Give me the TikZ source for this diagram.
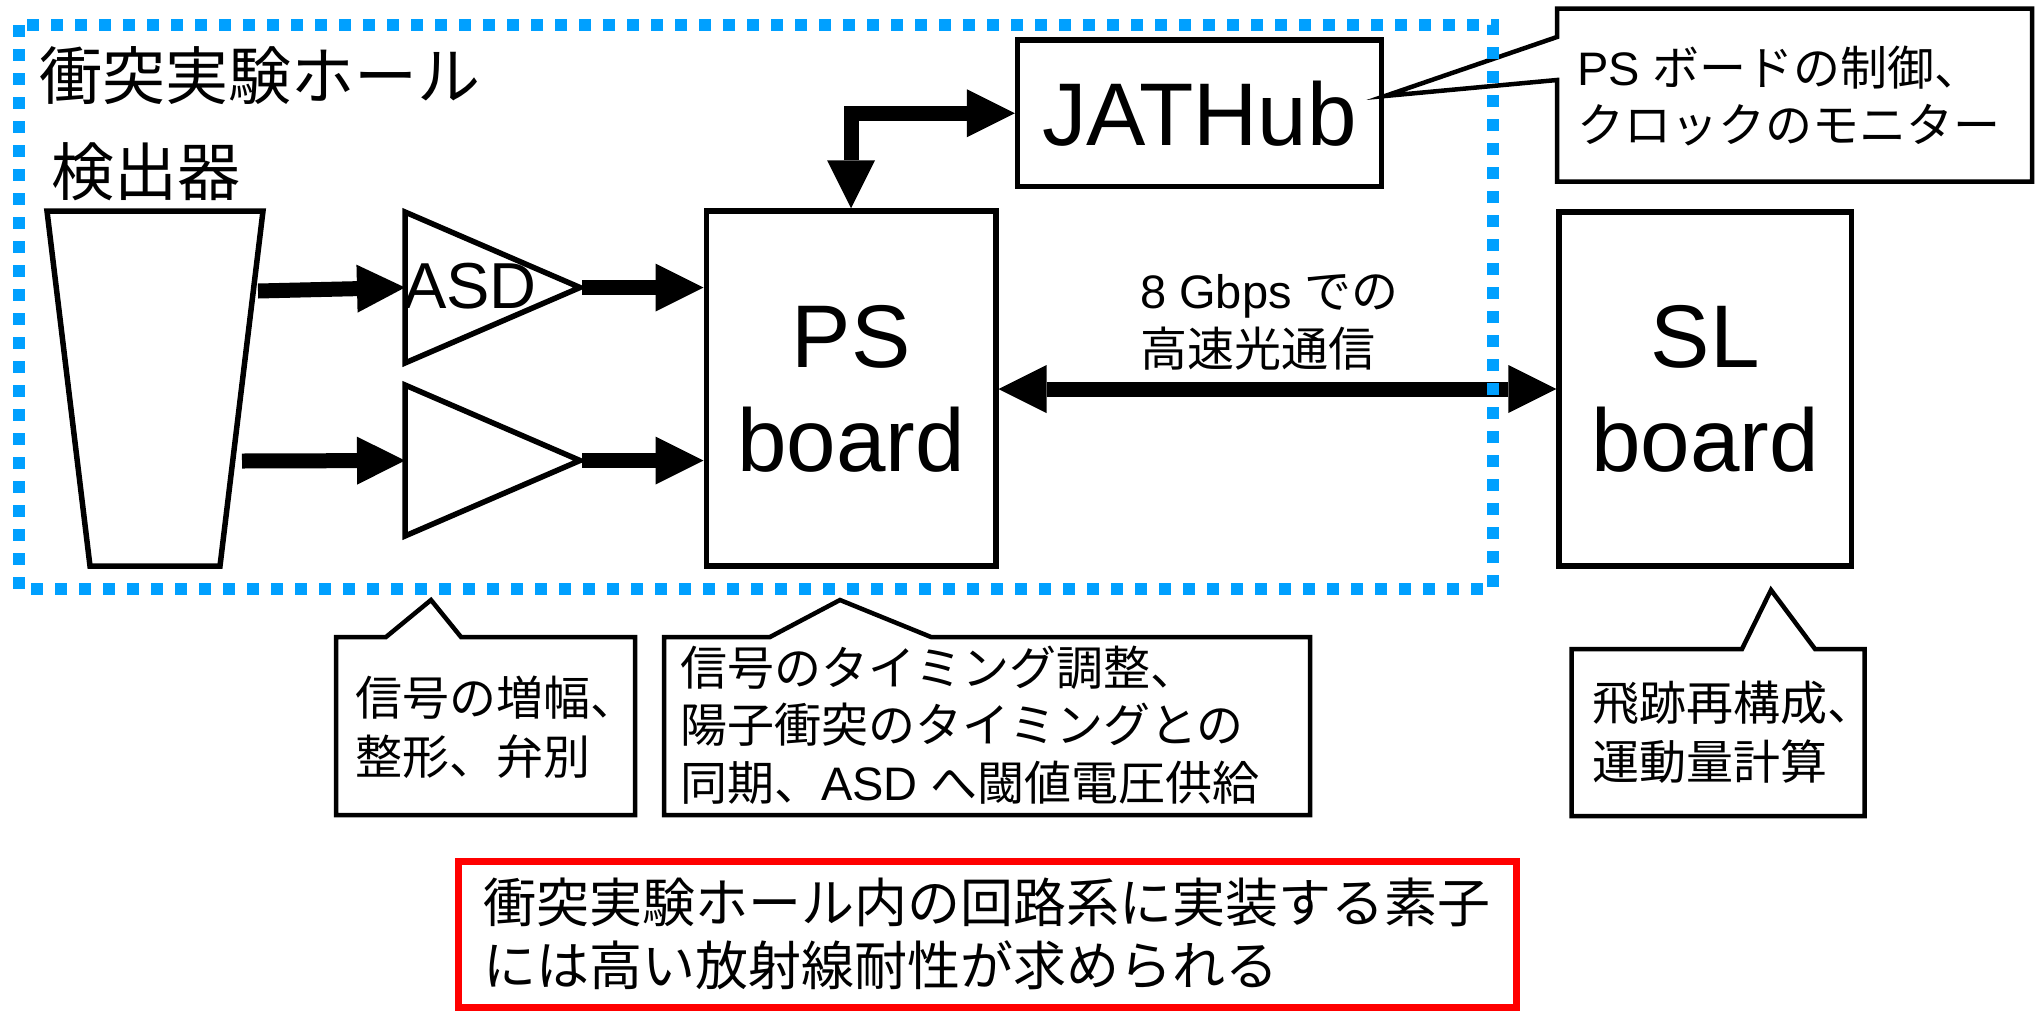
\documentclass[tikz,border=0pt]{standalone}
\usepackage{fontspec}
\setmainfont{Liberation Sans}
\newfontfamily\cjk{Noto Sans CJK JP}
\usetikzlibrary{arrows.meta}
\definecolor{hallblue}{RGB}{0,160,255}
\begin{document}
\begin{tikzpicture}[x=1pt,y=-1pt,
  boardbox/.style={draw, line width=5.5pt, inner sep=0pt, align=center, font=\fontsize{89}{104}\selectfont},
  outline/.style={draw, line width=5.5pt, line join=miter},
  callout/.style={draw, line width=4.5pt, line join=miter},
  calltext/.style={anchor=base west, inner sep=0pt, align=left, font=\cjk\fontsize{47}{58}\selectfont},
  headtip/.tip={Triangle[length=48pt,width=48pt,line width=0pt]},
  fat/.style={line width=15pt, -headtip},
  fatboth/.style={line width=15pt, line join=miter, headtip-headtip},
]
\useasboundingbox (0,0) rectangle (2035,1010);

% titles
\node[anchor=base west, inner sep=0pt, font=\cjk\fontsize{63}{75}\selectfont] (hall) at (39,99) {衝突実験ホール};
\node[anchor=base west, inner sep=0pt, font=\cjk\fontsize{63}{75}\selectfont] (detlabel) at (51,195) {検出器};

% detector
\draw[outline] (47,211) -- (263,211) -- (220,566) -- (90,566) -- cycle;
\coordinate (det1) at (258,291);
\coordinate (det2) at (242,461);

% amplifiers
\draw[outline] (405,212) -- (580,287.5) -- (405,363) -- cycle;
\draw[outline] (405,385) -- (580,460.5) -- (405,536) -- cycle;
\coordinate (t1in) at (405,287.5);
\coordinate (t1tip) at (582,287.5);
\coordinate (t2in) at (405,460.5);
\coordinate (t2tip) at (582,460.5);
\node[anchor=west, inner sep=0pt, font=\fontsize{65}{78}\selectfont] (asd) at (403,286) {ASD};

% boards
\node[boardbox, minimum width=289.5pt, minimum height=355pt] (ps) at (851,388.5) {PS\\board};
\node[boardbox, minimum width=292.5pt, minimum height=354pt] (sl) at (1705.25,389) {SL\\board};
\node[boardbox, minimum width=364pt, minimum height=146.5pt] (jat) at (1199.5,113.25) {JATHub};

% connectors
\draw[fat] (det1) -- (t1in);
\draw[fat] (det2) -- (t2in);
\draw[fat] (t1tip) -- (t1tip -| ps.west);
\draw[fat] (t2tip) -- (t2tip -| ps.west);
\draw[fatboth] (ps.north) |- (jat.west);
\draw[fatboth] (ps.east |- 0,389) -- (sl.west |- 0,389);

\node[anchor=base west, inner sep=0pt, align=left, font=\fontsize{47}{58}\selectfont] (link) at (1140,366) {8 Gbps {\cjk での}\\{\cjk 高速光通信}};

% callouts
\draw[callout] (1557,37) -- (1557,8.5) -- (2032,8.5) -- (2032,181.5) -- (1557,181.5) -- (1557,80) -- (1385,96) -- cycle;
\node[calltext, font=\fontsize{47}{57}\selectfont] (jattext) at (1577,142) {PS {\cjk ボードの制御、}\\{\cjk クロックのモニター}};

\draw[callout] (336,637) -- (386,637) -- (431,600) -- (461,637) -- (635,637) -- (635,815) -- (336,815) -- cycle;
\node[calltext, font=\cjk\fontsize{47}{59}\selectfont] (asdtext) at (355,774) {信号の増幅、\\整形、弁別};

\draw[callout] (664,637) -- (770,637) -- (840,600) -- (931,637) -- (1310,637) -- (1310,815) -- (664,815) -- cycle;
\node[calltext, font=\fontsize{47}{57.5}\selectfont] (pstext) at (680,800) {{\cjk 信号のタイミング調整、}\\{\cjk 陽子衝突のタイミングとの}\\{\cjk 同期、}ASD {\cjk へ閾値電圧供給}};

\draw[callout] (1571.5,649) -- (1742,649) -- (1771,590) -- (1815,649) -- (1864.5,649) -- (1864.5,816) -- (1571.5,816) -- cycle;
\node[calltext, font=\cjk\fontsize{47}{59}\selectfont] (sltext) at (1592,779) {飛跡再構成、\\運動量計算};

% note
\node[draw=red, line width=7pt, minimum width=1058.5pt, minimum height=145.5pt, inner sep=0pt, align=left, font=\cjk\fontsize{53}{63}\selectfont] (note) at (987.25,934.25) {衝突実験ホール内の回路系に実装する素子\\には高い放射線耐性が求められる};

% experimental hall boundary (on top)
\draw[hallblue, line width=12pt, dash pattern=on 12pt off 12pt] (19,25) rectangle (1493,589);
\end{tikzpicture}
\end{document}
